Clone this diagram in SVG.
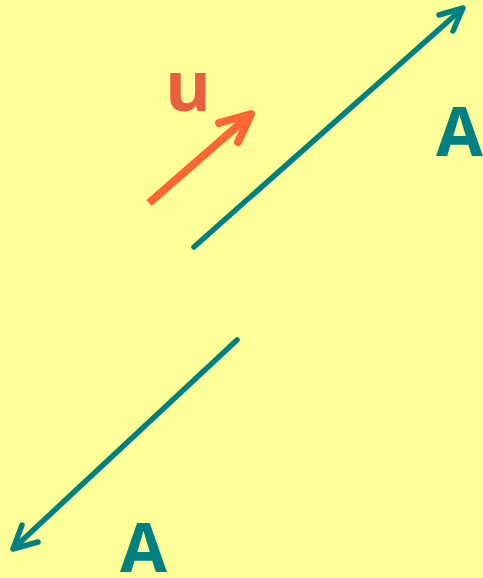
<svg xmlns="http://www.w3.org/2000/svg" width="483" height="578" viewBox="0 0 483 578">
<style>
.teal{stroke:#008080;stroke-width:5.5;fill:none;stroke-linecap:round;stroke-linejoin:round}
.orng{stroke:#FF6633;stroke-width:8;fill:none;stroke-linecap:butt;stroke-linejoin:round}
.lbl{font-family:"Open Sans","Noto Sans","DejaVu Sans",sans-serif;font-weight:bold}
</style>
<rect width="483" height="578" fill="#FFFF99"/>
<g id="connectors">
<g id="vecA1">
<line class="teal" x1="194" y1="247" x2="462" y2="9"/>
<polyline class="teal" points="439,15 463,8 453,31"/>
</g>
<g id="vecA2">
<line class="teal" x1="237" y1="340" x2="14" y2="548"/>
<polyline class="teal" points="22,525 13,549 38,542"/>
</g>
<g id="vecU">
<line class="orng" x1="149" y1="203" x2="250" y2="115"/>
<polyline class="orng" style="stroke-linecap:round" points="219,123 251,114 238,142"/>
</g>
</g>
<g id="labelU"><text class="lbl" x="165" y="111" font-size="70" fill="#E8603F">u</text></g>
<g id="labelA1"><text class="lbl" x="436" y="156" font-size="68" fill="#008080">A</text></g>
<g id="labelA2"><text class="lbl" x="120" y="572" font-size="68" fill="#008080">A</text></g>
</svg>
